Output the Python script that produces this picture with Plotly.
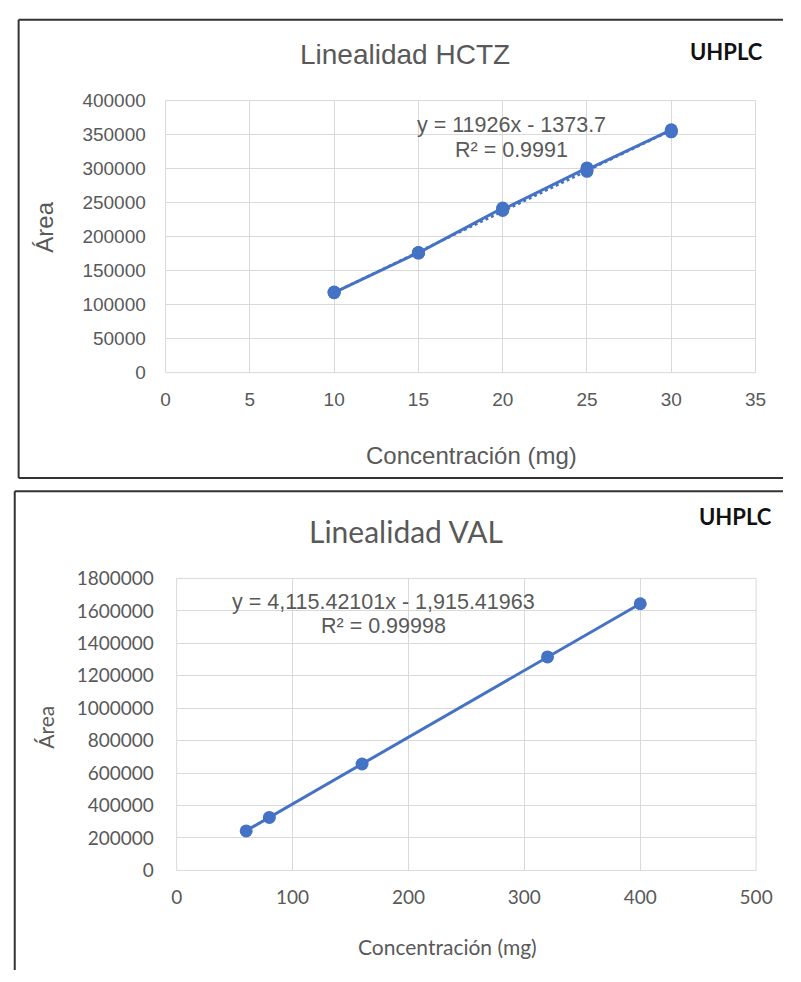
import plotly.graph_objects as go

# --- HCTZ calibration (triplicates per concentration) ---
hctz_conc = [10, 10, 10, 15, 15, 15, 20, 20, 20, 25, 25, 25, 30, 30, 30]
hctz_area = [118500, 118000, 117600, 176500, 175800, 176200,
             242000, 238500, 240000, 301000, 296000, 298500,
             357000, 354000, 355000]
hctz_slope = 11926
hctz_intercept = -1373.7
hctz_r2 = "0.9991"
hctz_xticks = [0, 5, 10, 15, 20, 25, 30, 35]
hctz_yticks = [0, 50000, 100000, 150000, 200000, 250000, 300000, 350000, 400000]

# --- VAL calibration ---
val_conc = [60, 80, 160, 320, 400]
val_area = [243500, 326500, 656000, 1316000, 1644000]
val_slope = 4115.42101
val_intercept = -1915.41963
val_r2 = "0.99998"
val_xticks = [0, 100, 200, 300, 400, 500]
val_yticks = [0, 200000, 400000, 600000, 800000, 1000000, 1200000, 1400000, 1600000, 1800000]

W, H = 801, 982
BLUE = "#4472C4"
GREY_TXT = "#595959"
GRID = "#D9D9D9"
FRAME = "#333333"
ARIAL = "Liberation Sans, Arial, sans-serif"
CALIBRI = "Lato, Carlito, Calibri, sans-serif"


def px(x):
    return x / W


def py(y):
    return 1 - y / H


def fit_line(slope, intercept, xs):
    lo, hi = min(xs), max(xs)
    return [lo, hi], [slope * lo + intercept, slope * hi + intercept]


fig = go.Figure()

# HCTZ: measured points joined by a line, plus dotted linear trendline
tx, ty = fit_line(hctz_slope, hctz_intercept, hctz_conc)
fig.add_trace(go.Scatter(x=tx, y=ty, mode="lines", xaxis="x", yaxis="y",
                         line=dict(color=BLUE, width=2.5, dash="dot"),
                         showlegend=False, hoverinfo="skip"))
fig.add_trace(go.Scatter(x=hctz_conc, y=hctz_area, mode="lines+markers",
                         xaxis="x", yaxis="y",
                         line=dict(color=BLUE, width=3),
                         marker=dict(color=BLUE, size=13),
                         showlegend=False))

# VAL: measured points and solid linear trendline
vx, vy = fit_line(val_slope, val_intercept, val_conc)
fig.add_trace(go.Scatter(x=vx, y=vy, mode="lines", xaxis="x2", yaxis="y2",
                         line=dict(color=BLUE, width=3),
                         showlegend=False, hoverinfo="skip"))
fig.add_trace(go.Scatter(x=val_conc, y=val_area, mode="markers",
                         xaxis="x2", yaxis="y2",
                         marker=dict(color=BLUE, size=13),
                         showlegend=False))


def axis_style(font_family, size, ticks, pad, **kw):
    # invisible outside ticks of length `pad` push the labels off the axis
    d = dict(showgrid=True, gridcolor=GRID, gridwidth=1,
             showline=False, zeroline=False,
             tickvals=ticks, ticktext=[str(t) for t in ticks],
             ticks="outside", ticklen=pad, tickcolor="rgba(0,0,0,0)",
             tickfont=dict(family=font_family, size=size, color=GREY_TXT))
    d.update(kw)
    return d


fig.update_layout(
    width=W, height=H,
    margin=dict(l=0, r=0, t=0, b=0),
    paper_bgcolor="white", plot_bgcolor="white",
    xaxis=axis_style(ARIAL, 19, hctz_xticks, 10, domain=[px(164.3), px(771.7)],
                     range=[0, 35], anchor="y"),
    yaxis=axis_style(ARIAL, 19, hctz_yticks, 15, domain=[py(369.3), py(90.7)],
                     range=[0, 400000], anchor="x"),
    xaxis2=axis_style(CALIBRI, 19, val_xticks, 10, domain=[px(175.7), px(772.3)],
                      range=[0, 500], anchor="y2"),
    yaxis2=axis_style(CALIBRI, 19, val_yticks, 18, domain=[py(879), py(580)],
                      range=[0, 1800000], anchor="x2"),
)

# Plot-area outlines in the grid colour
for xr, yr in (("x", "y"), ("x2", "y2")):
    fig.add_shape(type="rect", xref=f"{xr} domain", yref=f"{yr} domain",
                  x0=0, x1=1, y0=0, y1=1, layer="below",
                  line=dict(color=GRID, width=1))


def note(text, x, y, family, size, color=GREY_TXT, angle=0):
    fig.add_annotation(text=text, x=px(x), y=py(y), xref="paper", yref="paper",
                       xanchor="center", yanchor="middle", showarrow=False,
                       textangle=angle,
                       font=dict(family=family, size=size, color=color))


# Top panel texts
note("Linealidad HCTZ", 411, 44, ARIAL, 28)
note("<b>UHPLC</b>", 741.5, 40, CALIBRI, 22, color="#111111")
note("Área", 40, 220, ARIAL, 24, angle=-90)
note("Concentración (mg)", 479.5, 454, ARIAL, 24)
note(f"y = {hctz_slope}x - {abs(hctz_intercept)}", 520, 116, ARIAL, 21.5)
note(f"R² = {hctz_r2}", 520, 141, ARIAL, 21.5)

# Bottom panel texts
note("Linealidad VAL", 412, 531, CALIBRI, 30)
note("<b>UHPLC</b>", 751.5, 517, CALIBRI, 22, color="#111111")
note("Área", 41, 732, CALIBRI, 21, angle=-90)
note("Concentración (mg)", 455, 957, CALIBRI, 21)
note(f"y = {val_slope:,.5f}x - {abs(val_intercept):,.5f}", 389, 604, ARIAL, 21.5)
note(f"R² = {val_r2}", 389, 629, ARIAL, 21.5)


# Panel frames: the right and lower edges run off the page, so only the
# visible sides are drawn, kept inside the paper.
def frame_line(x0, y0, x1, y1):
    fig.add_shape(type="line", xref="paper", yref="paper",
                  x0=px(x0), y0=py(y0), x1=px(x1), y1=py(y1),
                  line=dict(color=FRAME, width=2))


frame_line(13, 8, W - 1, 8)
frame_line(13, 8, 13, 477.3)
frame_line(13, 477.3, W - 1, 477.3)
frame_line(9, 490.7, W - 1, 490.7)
frame_line(9, 490.7, 9, H - 1)

# A static chart: no drag handles or mode bar around the axes
fig.write_html("out.html", config={"staticPlot": True, "displayModeBar": False})
